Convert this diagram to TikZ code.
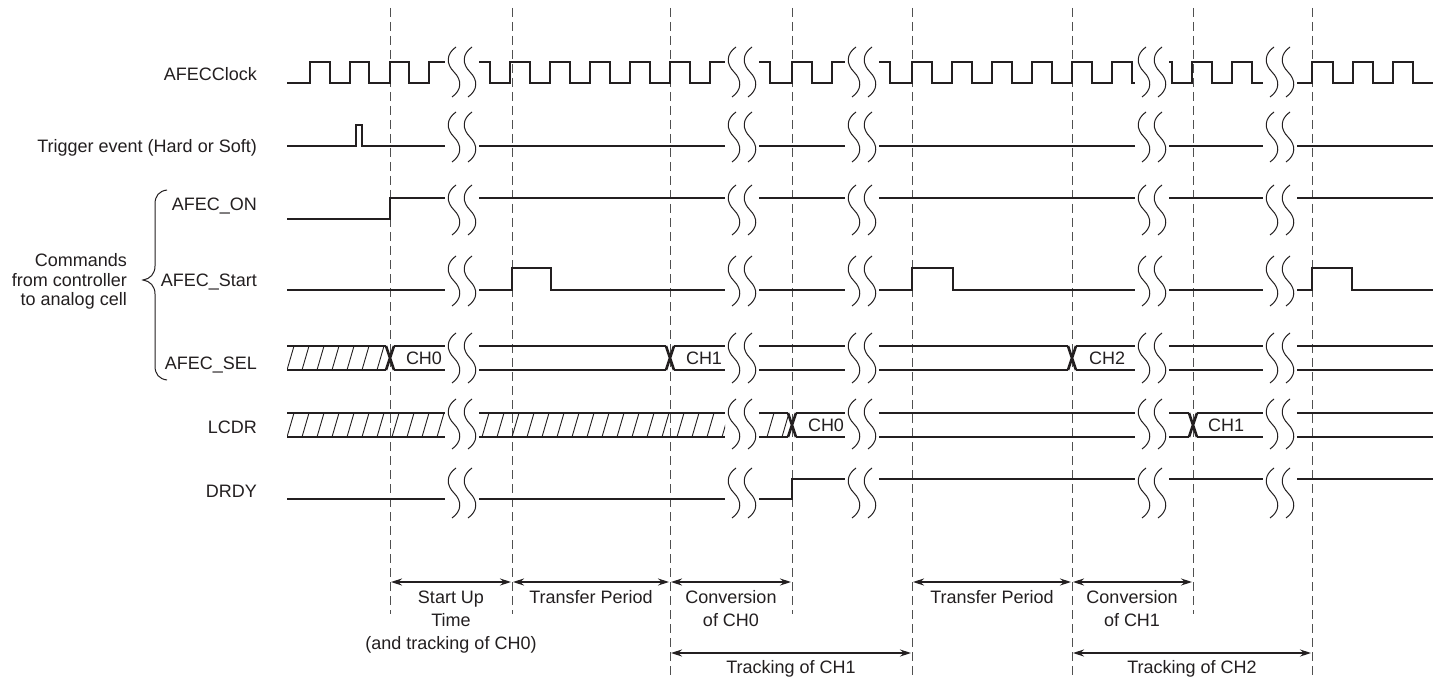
\documentclass[tikz,border=0pt]{standalone}
\usepackage{fontspec}
\setmainfont{Liberation Sans}
\usetikzlibrary{arrows.meta}
\definecolor{ink}{RGB}{35,31,32}
\definecolor{guidegray}{RGB}{80,80,80}
\newcommand{\wvline}[2]{% x, ymid
  \draw[wavy] (#1+2,#2-25) .. controls (#1-8,#2-18) and (#1-8,#2-8) .. (#1,#2)
              .. controls (#1+8,#2+8) and (#1+8,#2+18) .. (#1-2,#2+25);}
\newcommand{\brkrow}[1]{% ymid : all five breaks
  \foreach \bc in {462,742,862,1152,1280}{\wvline{\bc-8}{#1}\wvline{\bc+8}{#1}}}
\newcommand{\busseg}[4]{% x1,x2,top,bottom
  \draw[sig] (#1,#3) -- (#2,#3) (#1,#4) -- (#2,#4);}
\newcommand{\hatchseg}[4]{% x1,x2,top,bottom
  \begin{scope}
    \clip (#1,#3-1) rectangle (#2,#4+1);
    \foreach \hx in {272,287,...,1440}{\draw[hatch] (\hx,#4) -- (\hx+7,#3);}
  \end{scope}
  \busseg{#1}{#2}{#3}{#4}}
\newcommand{\xcross}[3]{% center, top, bottom
  \draw[sig] (#1-4,#2) -- (#1+4,#3) (#1-4,#3) -- (#1+4,#2);}
\begin{document}
\begin{tikzpicture}[x=1pt,y=-1pt,
  sig/.style={line width=2.6pt, draw=ink, line join=miter},
  hatch/.style={line width=0.9pt, draw=ink},
  wavy/.style={line width=1pt, draw=ink},
  guide/.style={line width=0.9pt, draw=guidegray, dash pattern=on 9pt off 5pt},
  dim/.style={line width=1.2pt, draw=ink, {Stealth[length=11pt,width=7pt]}-{Stealth[length=11pt,width=7pt]}, shorten <=1pt, shorten >=1pt},
  lbl/.style={font=\fontsize{18}{21}\selectfont, text=ink, inner sep=0pt},
  brace/.style={line width=1pt, draw=ink}]
\fill[white] (0,0) rectangle (1443,679);
\useasboundingbox (0,0) rectangle (1443,679);

% vertical dashed guides
\foreach \nm/\x/\yb in {v1/390/614, v2/512/614, v3/670/679, v4/792/614, v5/912/679, v6/1072/679, v7/1193/614, v8/1312/679}{
  \coordinate (\nm) at (\x,8);
  \draw[guide] (\x,8) -- (\x,\yb);
}

% ---------- signal labels ----------
\node[lbl, anchor=base east] (lclk) at (257,81) {AFECClock};
\node[lbl, anchor=base east] (ltrg) at (257,153) {Trigger event (Hard or Soft)};
\node[lbl, anchor=base east] (lon)  at (257,211) {AFEC\_ON};
\node[lbl, anchor=base east] (lst)  at (257,286) {AFEC\_Start};
\node[lbl, anchor=base east] (lsel) at (257,369) {AFEC\_SEL};
\node[lbl, anchor=base east] (llcd) at (257,433) {LCDR};
\node[lbl, anchor=base east] (ldr)  at (257,497) {DRDY};
\node[lbl, anchor=base east] (cm1) at (127,266) {Commands};
\node[lbl, anchor=base east] (cm2) at (127,286) {from controller};
\node[lbl, anchor=base east] (cm3) at (127,305) {to analog cell};
\draw[brace] (167,190) .. controls (159,191) and (155,196) .. (155,204) -- (155,266)
  .. controls (155,274) and (150,279) .. (143,280)
  .. controls (150,281) and (155,286) .. (155,294) -- (155,366)
  .. controls (155,374) and (159,379) .. (167,380);

% ---------- AFECClock (H 62, L 83) ----------
\draw[sig] (287,83) -| (310,62) -| (330,83) -| (350,62) -| (369,83) -| (390,62) -| (409,83) -| (429,62) -- (445,62);
\draw[sig] (479,62) -| (490,83) -| (510,62) -| (530,83) -| (550,62) -| (570,83) -| (590,62) -| (610,83) -| (630,62) -| (650,83) -| (670,62) -| (690,83) -| (710,62) -- (725,62);
\draw[sig] (759,62) -| (770,83) -| (792,62) -| (812,83) -| (832,62) -- (845,62);
\draw[sig] (879,62) -| (890,83) -| (912,62) -| (932,83) -| (952,62) -| (972,83) -| (992,62) -| (1012,83) -| (1032,62) -| (1052,83) -| (1072,62) -| (1092,83) -| (1112,62) -| (1132,83) -- (1135,83);
\draw[sig] (1169,62) -| (1172,83) -| (1192,62) -| (1212,83) -| (1232,62) -| (1252,83) -- (1263,83);
\draw[sig] (1297,83) -| (1312,62) -| (1333,83) -| (1353,62) -| (1373,83) -| (1393,62) -| (1413,83) -- (1433,83);
\brkrow{72}

% ---------- Trigger (H 125, L 146) ----------
\draw[sig] (287,146) -| (356,125) -| (362,146) -- (445,146);
\foreach \a/\b in {479/725,759/845,879/1135,1169/1263,1297/1433}{\draw[sig] (\a,146) -- (\b,146);}
\brkrow{137}

% ---------- AFEC_ON (H 198, L 219) ----------
\draw[sig] (287,219) -| (390,198) -- (445,198);
\foreach \a/\b in {479/725,759/845,879/1135,1169/1263,1297/1433}{\draw[sig] (\a,198) -- (\b,198);}
\brkrow{210}

% ---------- AFEC_Start (H 268, L 290) ----------
\draw[sig] (287,290) -- (445,290);
\draw[sig] (479,290) -| (512,268) -| (551,290) -- (725,290);
\draw[sig] (759,290) -- (845,290);
\draw[sig] (879,290) -| (912,268) -| (953,290) -- (1135,290);
\draw[sig] (1169,290) -- (1263,290);
\draw[sig] (1297,290) -| (1312,268) -| (1352,290) -- (1433,290);
\brkrow{281}

% ---------- AFEC_SEL (346 / 370) ----------
\hatchseg{287}{386}{346}{370}
\xcross{390}{346}{370}
\busseg{394}{445}{346}{370}
\node[lbl] (sel0) at (424,358) {CH0};
\busseg{479}{666}{346}{370}
\xcross{670}{346}{370}
\busseg{674}{725}{346}{370}
\node[lbl] (sel1) at (704,358) {CH1};
\busseg{759}{845}{346}{370}
\busseg{879}{1068}{346}{370}
\xcross{1072}{346}{370}
\busseg{1076}{1135}{346}{370}
\node[lbl] (sel2) at (1107,358) {CH2};
\busseg{1169}{1263}{346}{370}
\busseg{1297}{1433}{346}{370}
\brkrow{358}

% ---------- LCDR (413 / 437) ----------
\hatchseg{287}{445}{413}{437}
\hatchseg{479}{725}{413}{437}
\hatchseg{759}{788}{413}{437}
\xcross{792}{413}{437}
\busseg{796}{845}{413}{437}
\node[lbl] (lc0) at (826,425) {CH0};
\busseg{879}{1135}{413}{437}
\busseg{1169}{1189}{413}{437}
\xcross{1193}{413}{437}
\busseg{1197}{1263}{413}{437}
\node[lbl] (lc1) at (1226,425) {CH1};
\busseg{1297}{1433}{413}{437}
\brkrow{424}

% ---------- DRDY (H 479, L 499) ----------
\draw[sig] (287,499) -- (445,499);
\draw[sig] (479,499) -- (725,499);
\draw[sig] (759,499) -| (792,479) -- (845,479);
\foreach \a/\b in {879/1135,1169/1263,1297/1433}{\draw[sig] (\a,479) -- (\b,479);}
\brkrow{493}

% ---------- period annotations ----------
\coordinate (ra) at (0,582);
\coordinate (rb) at (0,653);
\draw[dim] (v1 |- ra) -- (v2 |- ra);
\draw[dim] (v2 |- ra) -- (v3 |- ra);
\draw[dim] (v3 |- ra) -- (v4 |- ra);
\draw[dim] (v5 |- ra) -- (v6 |- ra);
\draw[dim] (v6 |- ra) -- (v7 |- ra);
\draw[dim] (v3 |- rb) -- (v5 |- rb);
\draw[dim] (v6 |- rb) -- (v8 |- rb);

\node[lbl, anchor=base] (su1) at (451,603) {Start Up};
\node[lbl, anchor=base] (su2) at (451,626) {Time};
\node[lbl, anchor=base] (su3) at (451,649) {(and tracking of CH0)};
\node[lbl, anchor=base] (tp1) at (591,603) {Transfer Period};
\node[lbl, anchor=base] (cv1) at (731,603) {Conversion};
\node[lbl, anchor=base] (cv2) at (731,626) {of CH0};
\node[lbl, anchor=base] (tp2) at (992,603) {Transfer Period};
\node[lbl, anchor=base] (cv3) at (1132,603) {Conversion};
\node[lbl, anchor=base] (cv4) at (1132,626) {of CH1};
\node[lbl, anchor=base] (tr1) at (791,673) {Tracking of CH1};
\node[lbl, anchor=base] (tr2) at (1192,673) {Tracking of CH2};
\end{tikzpicture}
\end{document}
